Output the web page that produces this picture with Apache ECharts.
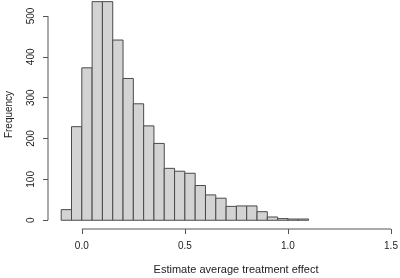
<!DOCTYPE html>
<html>
<head>
<meta charset="utf-8">
<script src="https://cdn.jsdelivr.net/npm/echarts@6/dist/echarts.min.js"></script>
<style>
  html, body { margin: 0; padding: 0; background: #fff; }
  #chart { width: 400px; height: 278px; }
</style>
</head>
<body>
<div id="chart"></div>
<script>
// histogram bins (left edges, width 0.05) and counts
var binStarts = [-0.1, -0.05, 0.0, 0.05, 0.1, 0.15, 0.2, 0.25, 0.3, 0.35, 0.4, 0.45,
                 0.5, 0.55, 0.6, 0.65, 0.7, 0.75, 0.8, 0.85, 0.9, 0.95, 1.0, 1.05]
var binWidth = 0.05
var counts = [26, 229, 373, 535, 535, 441, 347, 285, 231, 188, 127, 120,
              115, 85, 62, 54, 34, 35, 35, 21, 8, 4, 3, 3]
var xTicks = [0, 0.5, 1.0, 1.5]
var yTicks = [0, 100, 200, 300, 400, 500]

var axisColor = '#555'
var textColor = '#222'
var font = 'Liberation Sans'

var histData = binStarts.map(function(s, i) {
  return [s, s + binWidth, counts[i]]
})

var chart = echarts.init(document.getElementById('chart'))

var option = {
  backgroundColor: '#fff',
  animation: false,
  title: {
    text: 'Estimate average treatment effect',
    left: 231,
    top: 265,
    textAlign: 'center',
    textVerticalAlign: 'middle',
    textStyle: { fontFamily: font, fontSize: 11, fontWeight: 'normal', color: textColor }
  },
  grid: { left: 48, right: 9, top: 0, bottom: 49, outerBoundsMode: 'none', containLabel: false },
  xAxis: {
    type: 'value',
    min: -0.164,
    max: 1.5,
    splitLine: { show: false },
    axisLine: { show: false, onZero: false },
    axisTick: {
      show: true,
      customValues: xTicks,
      length: 5,
      lineStyle: { color: axisColor }
    },
    axisLabel: {
      customValues: xTicks,
      margin: 12,
      fontFamily: font,
      fontSize: 10,
      color: textColor,
      formatter: function(v) { return v.toFixed(1) }
    }
  },
  yAxis: {
    type: 'value',
    min: -21.4,
    max: 539,
    name: 'Frequency',
    nameLocation: 'middle',
    nameGap: 34,
    nameTextStyle: { fontFamily: font, fontSize: 10, color: textColor },
    splitLine: { show: false },
    axisLine: { show: false, onZero: false },
    axisTick: {
      show: true,
      customValues: yTicks,
      length: 5,
      lineStyle: { color: axisColor }
    },
    axisLabel: {
      customValues: yTicks,
      rotate: 90,
      margin: 12,
      fontFamily: font,
      fontSize: 10,
      color: textColor
    }
  },
  series: [
    {
      type: 'custom',
      data: histData,
      encode: { x: [0, 1], y: 2 },
      renderItem: function(params, api) {
        var p0 = api.coord([api.value(0), 0])
        var p1 = api.coord([api.value(1), api.value(2)])
        return {
          type: 'rect',
          shape: { x: p0[0], y: p1[1], width: p1[0] - p0[0], height: p0[1] - p1[1] },
          style: { fill: '#d3d3d3', stroke: '#4a4a4a', lineWidth: 1 }
        }
      }
    },
    {
      // R style axis lines, spanning first to last tick only
      type: 'custom',
      data: [0],
      silent: true,
      renderItem: function(params, api) {
        var yLow = -21.4
        var xLeft = -0.164
        var a = api.coord([xTicks[0], yLow])
        var b = api.coord([xTicks[xTicks.length - 1], yLow])
        var c = api.coord([xLeft, yTicks[0]])
        var d = api.coord([xLeft, yTicks[yTicks.length - 1]])
        return {
          type: 'group',
          children: [
            { type: 'line', shape: { x1: a[0], y1: a[1], x2: b[0], y2: b[1] },
              style: { stroke: axisColor, lineWidth: 1 } },
            { type: 'line', shape: { x1: c[0], y1: c[1], x2: d[0], y2: d[1] },
              style: { stroke: axisColor, lineWidth: 1 } }
          ]
        }
      }
    }
  ]
}

chart.setOption(option)
</script>
</body>
</html>
